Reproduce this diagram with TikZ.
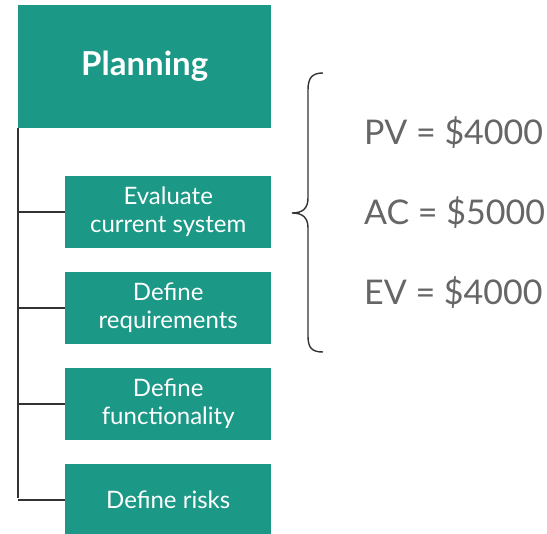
\documentclass[tikz,border=0pt]{standalone}
\usepackage{fontspec}
\setmainfont{Lato}
\begin{document}
\begin{tikzpicture}[x=1pt,y=-1pt,
  box/.style={fill=teal0, text=white, inner sep=0pt, align=center, anchor=north west},
  task/.style={box, minimum width=206pt, minimum height=72pt,
    font=\fontsize{24}{28}\selectfont},
  link/.style={line width=1.5pt, draw=linegray},
  figure/.style={anchor=base west, text=valgray, inner sep=0pt,
    font=\fontsize{34}{40}\selectfont}]
\definecolor{teal0}{HTML}{1B9886}
\definecolor{linegray}{HTML}{333333}
\definecolor{valgray}{HTML}{666666}
\useasboundingbox (0,0) rectangle (547,534);

% top-level phase
\node[box, minimum width=253pt, minimum height=123pt,
  font=\fontsize{33}{38}\selectfont\bfseries] (plan) at (18,5) {Planning};

% sub-tasks
\node[task] (t1) at (65,176) {Evaluate\\current system};
\node[task] (t2) at (65,272) {Define\\requirements};
\node[task] (t3) at (65,368) {Define\\functionality};
\node[task] (t4) at (65,464) {Define risks};

% tree connectors
\coordinate (trunk) at (plan.south west);
\coordinate (tend) at (18,498);
\draw[link] (trunk) -- (tend);
\foreach \t in {t1,t2,t3,t4}
  \draw[link] (trunk |- \t.west) -- (\t.west);

% brace grouping the values
\coordinate (btop) at (323,73);
\coordinate (btip) at (292,213);
\coordinate (bbot) at (323,352);
\draw[line width=1.4pt, draw=linegray]
  (btop) .. controls (312,73) and (308,78) .. (308,90) -- (308,198)
  .. controls (308,208) and (303,213) .. (btip)
  .. controls (303,213) and (308,218) .. (308,228) -- (308,336)
  .. controls (308,348) and (312,352) .. (bbot);

% earned value figures
\node[figure] (pv) at (364,145) {PV = \$4000};
\node[figure] (ac) at (364,225) {AC = \$5000};
\node[figure] (ev) at (364,305) {EV = \$4000};
\end{tikzpicture}
\end{document}
